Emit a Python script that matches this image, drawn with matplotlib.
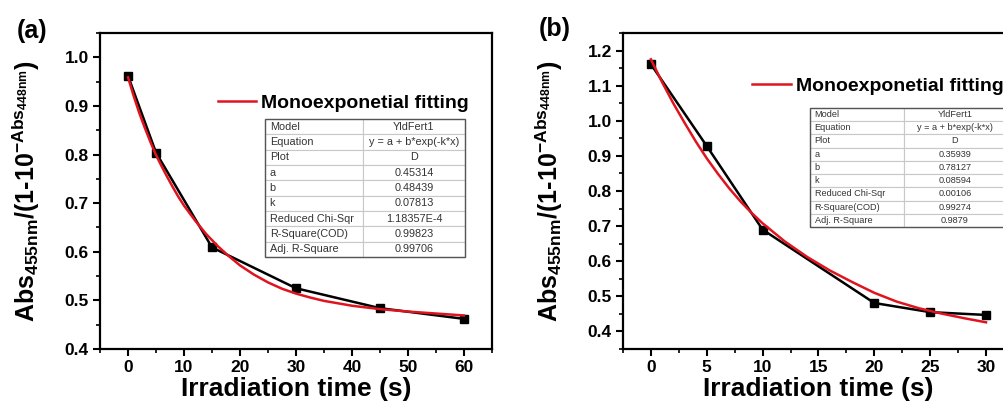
import matplotlib
matplotlib.use("Agg")
import matplotlib.pyplot as plt
from matplotlib.ticker import MultipleLocator
from matplotlib.patches import Rectangle

plt.rcParams['font.family'] = ['Liberation Sans', 'DejaVu Sans']
plt.rcParams['font.weight'] = 'bold'
plt.rcParams['mathtext.fontset'] = 'custom'
plt.rcParams['mathtext.rm'] = 'Liberation Sans:bold'
plt.rcParams['mathtext.it'] = 'Liberation Sans:bold'
plt.rcParams['mathtext.bf'] = 'Liberation Sans:bold'
plt.rcParams['mathtext.default'] = 'bf'

# --- panel (a) data ---
time_a = [0, 5, 15, 30, 45, 60]
abs_a = [0.962, 0.804, 0.609, 0.525, 0.484, 0.462]
fit_time_a = [0, 1, 2, 3, 4, 5, 6, 7, 8, 9, 10, 12, 14, 16, 18, 20, 22.5, 25, 27.5,
              30, 32.5, 35, 37.5, 40, 45, 50, 55, 60]
fit_abs_a = [0.959, 0.921, 0.886, 0.855, 0.826, 0.799, 0.776, 0.754, 0.733, 0.713,
             0.695, 0.664, 0.636, 0.612, 0.591, 0.572, 0.553, 0.537, 0.524,
             0.514, 0.506, 0.499, 0.494, 0.489, 0.482, 0.477, 0.473, 0.469]
table_a = [("Model", "YldFert1"), ("Equation", "y = a + b*exp(-k*x)"), ("Plot", "D"),
           ("a", "0.45314"), ("b", "0.48439"), ("k", "0.07813"),
           ("Reduced Chi-Sqr", "1.18357E-4"), ("R-Square(COD)", "0.99823"),
           ("Adj. R-Square", "0.99706")]

# --- panel (b) data ---
time_b = [0, 5, 10, 20, 25, 30]
abs_b = [1.161, 0.928, 0.690, 0.481, 0.455, 0.447]
fit_time_b = [0, 1, 2, 3, 4, 5, 6, 7, 8, 9, 10, 12, 14, 16, 18, 20, 22, 24, 26, 28, 30]
fit_abs_b = [1.175, 1.110, 1.050, 0.995, 0.942, 0.893, 0.849, 0.808, 0.771, 0.738,
             0.708, 0.656, 0.612, 0.574, 0.541, 0.510, 0.485, 0.466, 0.451, 0.438,
             0.426]
table_b = [("Model", "YldFert1"), ("Equation", "y = a + b*exp(-k*x)"), ("Plot", "D"),
           ("a", "0.35939"), ("b", "0.78127"), ("k", "0.08594"),
           ("Reduced Chi-Sqr", "0.00106"), ("R-Square(COD)", "0.99274"),
           ("Adj. R-Square", "0.9879")]

ylabel = r'Abs$_{455nm}$/(1-10$^{-Abs_{448nm}}$)'

fig = plt.figure(figsize=(10.04, 4.08), dpi=100)
ax_a = fig.add_axes([0.0996, 0.1446, 0.3904, 0.7745])
ax_b = fig.add_axes([0.6205, 0.1446, 0.3894, 0.7745])


def style_axes(ax, xmaj, xmin, ymaj, ymin):
    for s in ax.spines.values():
        s.set_linewidth(1.6)
    ax.xaxis.set_major_locator(MultipleLocator(xmaj))
    ax.xaxis.set_minor_locator(MultipleLocator(xmin))
    ax.yaxis.set_major_locator(MultipleLocator(ymaj))
    ax.yaxis.set_minor_locator(MultipleLocator(ymin))
    ax.tick_params(which='major', direction='out', length=5, width=1.5,
                   labelsize=12.5, pad=3)
    ax.tick_params(which='minor', direction='out', length=3, width=1.2)
    for lab in ax.get_xticklabels() + ax.get_yticklabels():
        lab.set_fontweight('bold')
    ax.set_xlabel('Irradiation time (s)', fontsize=19, fontweight='bold', labelpad=1)
    ax.set_ylabel(ylabel, fontsize=18, fontweight='bold', labelpad=2)


def draw_table(ax, rows, bbox, fsize, split):
    x0, y0, w, h = bbox
    n = len(rows)
    rh = h / n
    for i, (k, v) in enumerate(rows):
        yt = y0 + h - (i + 1) * rh
        for cx, cw in ((x0, w * split), (x0 + w * split, w * (1 - split))):
            ax.add_patch(Rectangle((cx, yt), cw, rh, transform=ax.transAxes,
                                   facecolor='white', edgecolor='#c8c8c8',
                                   linewidth=0.8, zorder=5, clip_on=False))
        ax.text(x0 + 0.012, yt + rh / 2, k, transform=ax.transAxes, fontsize=fsize,
                fontweight='normal', color='#333333', ha='left', va='center',
                zorder=6, clip_on=False)
        ax.text(x0 + w * split + w * (1 - split) / 2, yt + rh / 2, v,
                transform=ax.transAxes, fontsize=fsize, fontweight='normal',
                color='#333333', ha='center', va='center', zorder=6, clip_on=False)
    ax.add_patch(Rectangle((x0, y0), w, h, transform=ax.transAxes, facecolor='none',
                           edgecolor='#555555', linewidth=1.0, zorder=7, clip_on=False))


# panel (a)
ax_a.plot(time_a, abs_a, color='black', lw=1.8, marker='s', ms=6, zorder=3)
ax_a.plot(fit_time_a, fit_abs_a, color='#e0141e', lw=1.8, zorder=4,
          label='Monoexponetial fitting')
ax_a.set_xlim(-5, 65)
ax_a.set_ylim(0.4, 1.05)
style_axes(ax_a, 10, 5, 0.1, 0.05)
ax_a.legend(loc='center left', bbox_to_anchor=(0.30, 0.778), frameon=False,
            borderpad=0, borderaxespad=0, handlelength=2.0, handletextpad=0.25,
            prop={'weight': 'bold', 'size': 14})
draw_table(ax_a, table_a, (0.421, 0.291, 0.510, 0.437), 7.8, 0.49)
ax_a.yaxis.set_label_coords(-0.148, 0.5)

# panel (b)
ax_b.plot(time_b, abs_b, color='black', lw=1.8, marker='s', ms=6, zorder=3)
ax_b.plot(fit_time_b, fit_abs_b, color='#e0141e', lw=1.8, zorder=4,
          label='Monoexponetial fitting')
ax_b.set_xlim(-2.5, 32.5)
ax_b.set_ylim(0.35, 1.25)
style_axes(ax_b, 5, 2.5, 0.1, 0.05)
ax_b.legend(loc='center left', bbox_to_anchor=(0.33, 0.832), frameon=False,
            borderpad=0, borderaxespad=0, handlelength=2.0, handletextpad=0.25,
            prop={'weight': 'bold', 'size': 14})
draw_table(ax_b, table_b, (0.478, 0.386, 0.501, 0.377), 6.6, 0.48)
ax_b.yaxis.set_label_coords(-0.148, 0.5)

fig.text(0.032, 0.925, '(a)', fontsize=18, fontweight='bold', ha='center', va='center')
fig.text(0.553, 0.928, '(b)', fontsize=18, fontweight='bold', ha='center', va='center')

fig.savefig('out.png', dpi=100)
